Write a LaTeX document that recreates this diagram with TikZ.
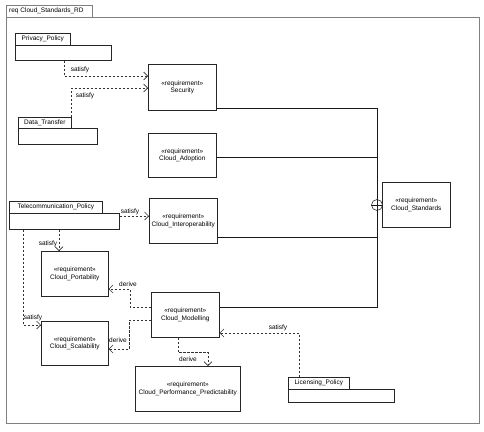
\documentclass[tikz,border=0pt]{standalone}
\usepackage{fontspec}
\setmainfont{Liberation Sans}
\usetikzlibrary{arrows.meta,calc}
\begin{document}
\begin{tikzpicture}[x=1pt,y=-1pt, font=\fontsize{6.5}{7.6}\selectfont,
  req/.style={draw=black!85, line width=0.6pt, inner sep=0pt, align=center, anchor=north west},
  blk/.style={draw=black!85, line width=0.6pt, inner sep=0pt, anchor=north west},
  dep/.style={draw=black!80, line width=0.6pt, dash pattern=on 2.5pt off 1.5pt, -{Straight Barb[length=4pt,width=8pt]}},
  lbl/.style={inner sep=0.5pt},
  assoc/.style={draw=black!90, line width=0.6pt}]
\useasboundingbox (0,0) rectangle (484,431);
\fill[white] (0,0) rectangle (484,431);
% frame
\node[blk, draw=gray, minimum width=86pt, minimum height=12pt] (ftab) at (6,5) {};
\node[anchor=west, inner sep=0pt] (ftitle) at (9,11) {req Cloud\_Standards\_RD};
\node[blk, draw=gray, minimum width=473pt, minimum height=406pt] (frame) at (6,17) {};
% requirements
\node[req, minimum width=68pt, minimum height=46pt] (sec) at (148,64) {«requirement»\\Security};
\node[req, minimum width=68pt, minimum height=44pt] (adopt) at (148,133) {«requirement»\\Cloud\_Adoption};
\node[req, minimum width=68pt, minimum height=45pt] (interop) at (149,198) {«requirement»\\Cloud\_Interoperability};
\node[req, minimum width=67pt, minimum height=45pt] (port) at (41,251) {«requirement»\\Cloud\_Portability};
\node[req, minimum width=67pt, minimum height=44pt] (scal) at (41,321) {«requirement»\\Cloud\_Scalability};
\node[req, minimum width=68pt, minimum height=45pt] (model) at (151,292) {«requirement»\\Cloud\_Modelling};
\node[req, minimum width=105pt, minimum height=45pt] (perf) at (135,366) {«requirement»\\Cloud\_Performance\_Predictability};
\node[req, minimum width=68pt, minimum height=45pt] (std) at (382,182) {«requirement»\\Cloud\_Standards};
% blocks
\node[blk, minimum width=55pt, minimum height=12pt] (ppt) at (15,33) {Privacy\_Policy};
\node[blk, minimum width=96pt, minimum height=15pt] (ppb) at (15,45) {};
\node[blk, minimum width=53pt, minimum height=11pt] (dtt) at (18,117) {Data\_Transfer};
\node[blk, minimum width=79pt, minimum height=16pt] (dtb) at (18,128) {};
\node[blk, minimum width=93pt, minimum height=12pt] (tpt) at (9,201) {Telecommunication\_Policy};
\node[blk, minimum width=110pt, minimum height=16pt] (tpb) at (9,213) {};
\node[blk, minimum width=61pt, minimum height=12pt] (lpt) at (288,377) {Licensing\_Policy};
\node[blk, minimum width=106pt, minimum height=13pt] (lpb) at (288,389) {};
% dependencies
\draw[dep] ($(ppb.south west)+(49,0)$) |- ($(sec.north west)+(0,12)$);
\node[lbl] (l1) at (80,70) {satisfy};
\draw[dep] (dtt.north east) |- ($(sec.north west)+(0,24)$);
\node[lbl] (l2) at (85,96) {satisfy};
\draw[dep] ($(tpb.north east)+(0,3)$) -- ($(interop.north west)+(0,18)$);
\node[lbl] (l3) at (130,212) {satisfy};
\draw[dep] ($(tpb.south west)+(50,0)$) -- ($(port.north west)+(18,0)$);
\node[lbl] (l4) at (48,244) {satisfy};
\draw[dep] ($(tpb.south west)+(14,0)$) |- ($(scal.north west)+(0,4)$);
\node[lbl] (l5) at (33,318) {satisfy};
\draw[dep] ($(model.north west)+(0,15)$) -- ++(-21,0) |- ($(port.north east)+(0,38)$);
\node[lbl] (l6) at (128,284) {derive};
\draw[dep] ($(model.north west)+(0,28)$) -- ++(-22,0) |- ($(scal.north east)+(0,28)$);
\node[lbl] (l7) at (118,340) {derive};
\draw[dep] ($(model.south west)+(27,0)$) -- ++(0,15) -| ($(perf.north west)+(73,0)$);
\node[lbl] (l8) at (188,359) {derive};
\draw[dep] ($(lpt.north west)+(11,0)$) |- ($(model.north east)+(0,41)$);
\node[lbl] (l9) at (278,328) {satisfy};
% containment
\coordinate (hub) at (377,205);
\draw[assoc] ($(sec.south east)+(0,-2)$) -| (hub);
\draw[assoc] ($(adopt.north east)+(0,24)$) -| (hub);
\draw[assoc] ($(interop.south east)+(0,-6)$) -| (hub);
\draw[assoc] ($(model.north east)+(0,15)$) -| (hub);
\node[circle, draw=black!80, fill=white, line width=0.6pt, minimum size=11pt, inner sep=0pt] (plus) at (hub) {};
\draw[assoc] (plus.north) -- (plus.south) (plus.west) -- (plus.east);
\end{tikzpicture}
\end{document}
